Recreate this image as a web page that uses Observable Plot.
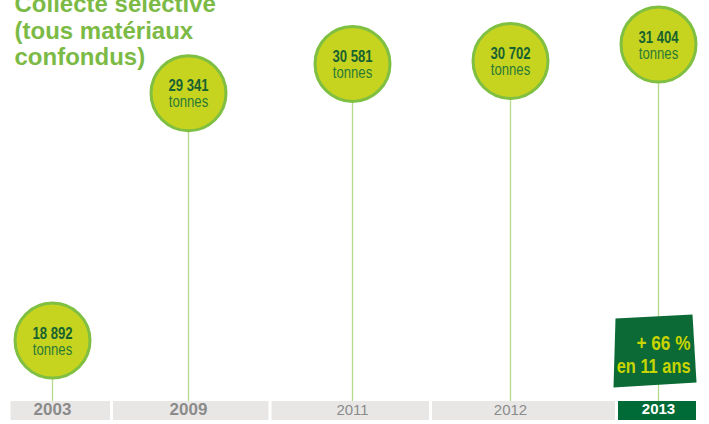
<!DOCTYPE html>
<html><head><meta charset="utf-8">
<script src="https://cdn.jsdelivr.net/npm/d3@7"></script>
<script src="https://cdn.jsdelivr.net/npm/@observablehq/plot@0.6"></script>
<style>body{margin:0;background:#fff} #chart svg{display:block}</style>
</head><body><div id="chart"></div>
<script>
const years = [2003, 2009, 2011, 2012, 2013];
const tonnes = [18892, 29341, 30581, 30702, 31404];
const unitLabel = "tonnes";
const titleLines = ["Collecte sélective", "(tous matériaux", "confondus)"];
const growthLines = ["+ 66 %", "en 11 ans"];

const sans = "'Liberation Sans',Arial,sans-serif";
const fmt = d3.formatLocale({decimal: ",", thousands: " ", grouping: [3], currency: ["", " €"]}).format(",d");
const yDomain = [15470, 33260];

const last = years.length - 1;
const rows = years.map((year, i) => ({
  year,
  tonnes: tonnes[i],
  x1: i === 0 ? year - 1 : (years[i - 1] + year) / 2,
  x2: i === last ? year + 1 : (year + years[i + 1]) / 2,
  current: i === last
}));
const xDomain = Array.from(new Set(rows.flatMap(d => [d.x1, d.year, d.x2]))).sort((a, b) => a - b);

const quad = {
  draw(ctx) {
    ctx.moveTo(-43, -22);
    ctx.lineTo(34, -26);
    ctx.lineTo(38, 42);
    ctx.lineTo(-45, 47);
    ctx.closePath();
  }
};

const chart = Plot.plot({
  width: 709,
  height: 424,
  marginTop: 0,
  marginRight: 0,
  marginBottom: 3,
  marginLeft: 0,
  x: {type: "linear", domain: xDomain, range: [9, 52, 111.5, 188, 270, 352, 430.5, 510, 616.5, 658, 697.5], axis: null},
  y: {domain: yDomain, axis: null},
  marks: [
    Plot.ruleX(rows, {x: "year", y1: "tonnes", y2: () => yDomain[0], stroke: "#b3d98b", strokeWidth: 1.3, insetBottom: 4}),
    Plot.rect(rows.filter(d => !d.current), {x1: "x1", x2: "x2", fill: "#e8e7e6", insetLeft: 1.5, insetRight: 1.5, insetTop: 401, insetBottom: 1}),
    Plot.rect(rows.filter(d => d.current), {x1: "x1", x2: "x2", fill: "#006b36", insetLeft: 1.5, insetRight: 1.5, insetTop: 401, insetBottom: 1}),
    Plot.text(rows.filter(d => d.year < 2010), {x: "year", text: d => String(d.year), frameAnchor: "bottom", dy: -7, fontSize: 17, fontWeight: "bold", fill: "#8b8b8b", fontFamily: sans}),
    Plot.text(rows.filter(d => d.year > 2010 && !d.current), {x: "year", text: d => String(d.year), frameAnchor: "bottom", dy: -7, fontSize: 15, fill: "#8b8b8b", fontFamily: sans}),
    Plot.text(rows.filter(d => d.current), {x: "year", text: d => String(d.year), frameAnchor: "bottom", dy: -8, fontSize: 15, fontWeight: "bold", fill: "#ffffff", fontFamily: sans}),
    Plot.dot(rows, {x: "year", y: "tonnes", r: 37.5, fill: "#c6d420", stroke: "#7fbf41", strokeWidth: 3}),
    Plot.text(rows, {x: "year", y: "tonnes", text: d => fmt(d.tonnes), dy: -7, fontSize: 16, fontWeight: "bold", fill: "#17622f", fontFamily: sans, className: "narrow"}),
    Plot.text(rows, {x: "year", y: "tonnes", text: () => unitLabel, dy: 9, fontSize: 16, fill: "#2b7a34", fontFamily: sans, className: "narrow"}),
    Plot.dot([{year: years[last], tonnes: tonnes[0]}], {x: "year", y: "tonnes", symbol: quad, fill: "#0b6a35", stroke: "none"}),
    Plot.text([{year: years[last], tonnes: tonnes[0], t: growthLines[0]}], {x: "year", y: "tonnes", text: "t", dx: 32, dy: 3, textAnchor: "end", fontSize: 21, fontWeight: "bold", fill: "#c8d400", fontFamily: sans, className: "narrow"}),
    Plot.text([{year: years[last], tonnes: tonnes[0], t: growthLines[1]}], {x: "year", y: "tonnes", text: "t", dx: 32, dy: 26, textAnchor: "end", fontSize: 20, fontWeight: "bold", fill: "#c8d400", fontFamily: sans, className: "narrow"}),
    Plot.text([titleLines.join("\n")], {frameAnchor: "top-left", text: d => d, lineAnchor: "top", lineHeight: 1.1, dx: 14, dy: -7, fontSize: 24, fontWeight: "bold", fill: "#7cba46", fontFamily: sans})
  ]
});
// emulate a condensed face (Arial Narrow ≈ Arial scaled 82% horizontally)
chart.querySelectorAll("g.narrow text").forEach(el => {
  const t = el.getAttribute("transform") || "";
  el.setAttribute("transform", t + " scale(0.82,1)");
});
document.getElementById("chart").append(chart);
</script>
</body></html>
